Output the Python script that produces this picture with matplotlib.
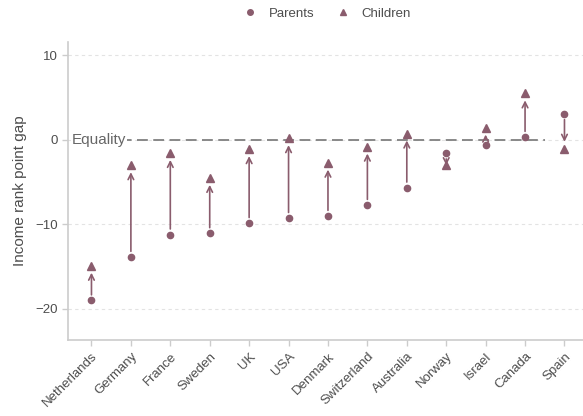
import matplotlib
matplotlib.use("Agg")
import matplotlib.pyplot as plt
from matplotlib.lines import Line2D

plt.rcParams['font.family'] = ['Liberation Sans', 'DejaVu Sans']

countries = ["Netherlands", "Germany", "France", "Sweden", "UK", "USA", "Denmark",
             "Switzerland", "Australia", "Norway", "Israel", "Canada", "Spain"]
parents = [-19.0, -13.85, -11.2, -11.05, -9.85, -9.25, -9.0, -7.7, -5.65, -1.6, -0.6, 0.35, 3.05]
children = [-14.9, -3.0, -1.55, -4.5, -1.1, 0.2, -2.7, -0.8, 0.75, -3.0, 1.45, 5.5, -1.05]
yticks = [-20, -10, 0, 10]

col = '#8a5c6d'
gray = '#4d4d4d'

fig = plt.figure(figsize=(5.83, 4.16), dpi=100)
ax = fig.add_axes([0.117, 0.183, 0.883, 0.717])

x = list(range(len(countries)))

ax.set_xlim(-0.59, 12.47)
ax.set_ylim(-23.67, 11.63)

for yv in yticks:
    ax.axhline(yv, color='#e3e3e3', lw=0.8, ls=(0, (3, 3)), zorder=0)

# equality line
ax.plot([-0.5, 11.5], [0, 0], color='#808080', lw=1.3, ls=(0, (6, 3)), zorder=1)
ax.text(-0.5, 0, "Equality", color='#666666', fontsize=11, va='center', ha='left',
        bbox=dict(facecolor='white', edgecolor='none', pad=0.3), zorder=2)

for xi, p, c in zip(x, parents, children):
    ax.annotate("", xy=(xi, c), xytext=(xi, p),
                arrowprops=dict(arrowstyle='->', color=col, lw=1.2, shrinkA=4, shrinkB=5,
                                mutation_scale=10), zorder=3)

ax.plot(x, parents, 'o', color=col, ms=4.5, ls='none', zorder=4)
ax.plot(x, children, '^', color=col, ms=5.5, ls='none', zorder=4)

ax.set_xticks(x)
ax.set_xticklabels(countries, rotation=45, ha='right', rotation_mode='anchor',
                   fontsize=9.5, color=gray)
ax.set_yticks(yticks)
ax.set_yticklabels(["\u221220", "\u221210", "0", "10"], fontsize=9.5, color=gray)
ax.tick_params(axis='both', color='#cccccc', length=4, width=1)
ax.set_ylabel("Income rank point gap", fontsize=11, color=gray, labelpad=6)

for s in ['top', 'right']:
    ax.spines[s].set_visible(False)
for s in ['left', 'bottom']:
    ax.spines[s].set_color('#cccccc')
    ax.spines[s].set_linewidth(1.2)

handles = [Line2D([], [], marker='o', color=col, ls='none', ms=4),
           Line2D([], [], marker='^', color=col, ls='none', ms=5)]
fig.legend(handles, ["Parents", "Children"], loc='upper center', bbox_to_anchor=(0.56, 1.01),
           ncol=2, frameon=False, fontsize=9.5, labelcolor=gray, handletextpad=0.8,
           columnspacing=1.6, handlelength=1.2)

fig.savefig("out.png", dpi=100)
